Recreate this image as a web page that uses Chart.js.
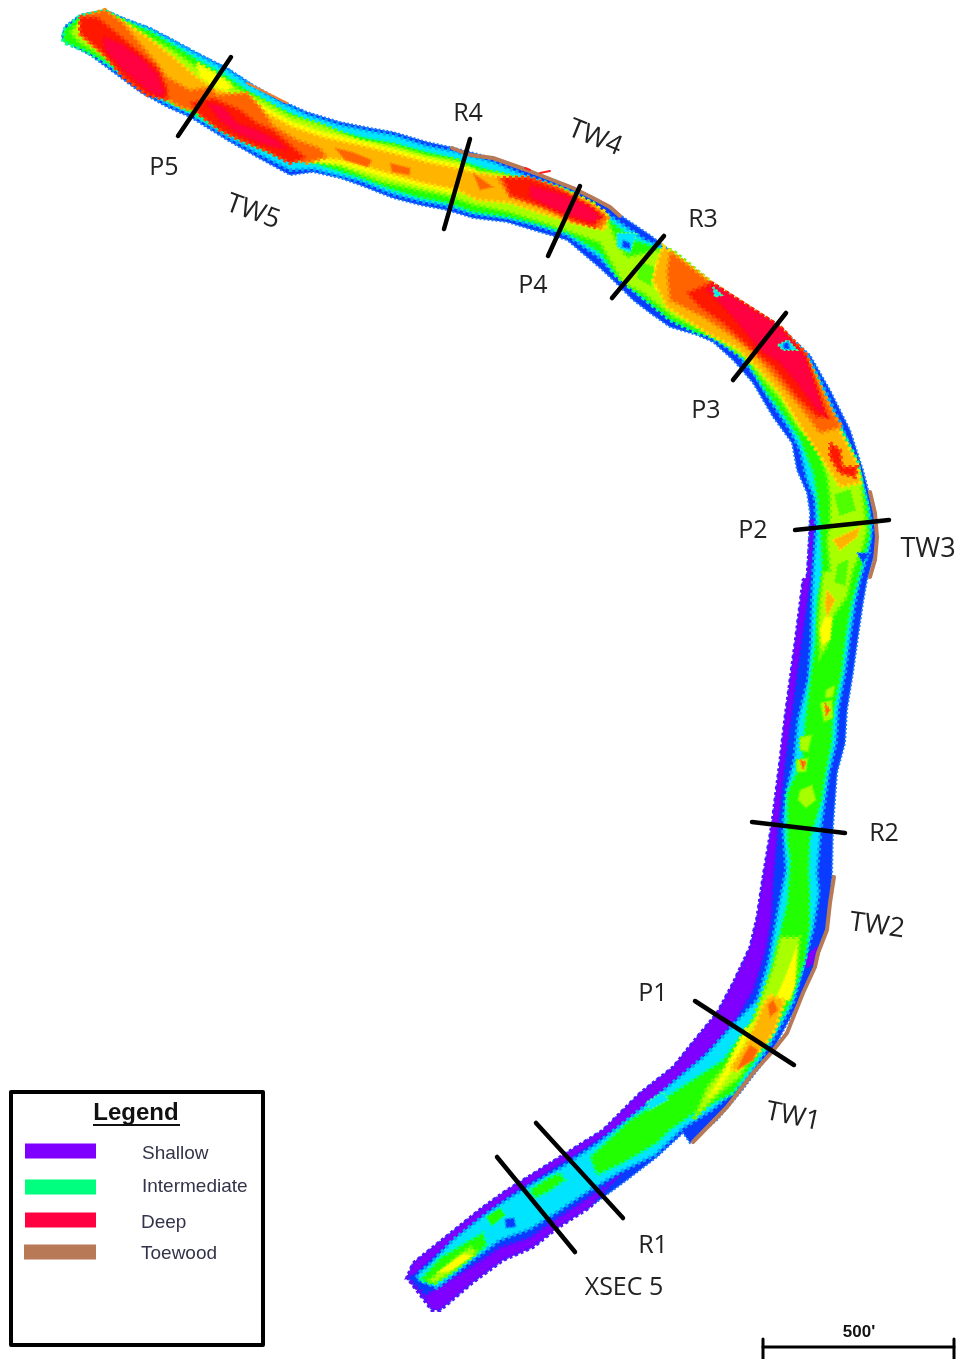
<!DOCTYPE html>
<html>
<head>
<meta charset="utf-8">
<title>Stream depth map</title>
<script src="https://cdn.jsdelivr.net/npm/chart.js@4"></script>
<style>
  html, body { margin: 0; padding: 0; background: #fff; }
  canvas { display: block; filter: blur(0.6px); }
</style>
</head>
<body>
<canvas id="map" width="959" height="1359"></canvas>
<script>
// all outlines, in picture pixels
const riverOutline = [[62,37],[65,26],[80,15],[105,10],[123,18],[150,28],[173,40],[197,53],[227,68],[253,85],[280,100],[307,112],[340,122],[370,128],[393,132],[427,142],[450,147],[493,158],[527,172],[567,185],[593,198],[620,215],[650,235],[663,245],[710,282],[780,327],[810,355],[830,390],[850,430],[863,470],[870,497],[877,527],[875,553],[867,580],[863,603],[858,637],[853,673],[847,710],[845,743],[837,773],[833,827],[832,877],[827,927],[817,960],[800,1000],[773,1050],[740,1093],[717,1120],[690,1143],[683,1133],[657,1157],[623,1183],[590,1207],[557,1228],[533,1247],[503,1260],[473,1282],[440,1310],[432,1310],[407,1277],[413,1263],[423,1255],[483,1207],[507,1190],[563,1155],[603,1130],[640,1093],[673,1067],[697,1037],[717,1013],[733,983],[750,947],[757,917],[763,877],[772,823],[780,760],[785,717],[795,643],[803,580],[807,577],[810,513],[807,493],[797,470],[792,443],[773,417],[753,383],[733,360],[713,342],[697,335],[670,327],[650,313],[633,300],[613,280],[600,268],[567,240],[533,230],[507,222],[473,218],[447,210],[420,205],[393,198],[360,185],[340,178],[313,172],[290,175],[257,157],[227,140],[190,117],[167,107],[140,92],[117,75],[90,55],[67,43]];
const purpleWest = [[811,520],[807,577],[803,580],[795,643],[785,717],[780,760],[772,823],[763,877],[757,917],[750,947],[733,983],[717,1013],[697,1037],[673,1067],[640,1093],[603,1130],[563,1155],[507,1190],[483,1207],[423,1255],[413,1263],[407,1277],[416,1273],[432,1258],[488,1211],[518,1190],[573,1156],[625,1122],[658,1095],[692,1066],[717,1042],[737,1017],[753,990],[766,947],[771,917],[773,877],[778,823],[785,760],[791,717],[801,643],[810,580],[814,520]];
const purpleSouth = [[407,1277],[425,1296],[470,1268],[500,1248],[530,1238],[557,1219],[590,1197],[612,1182],[590,1207],[557,1228],[533,1247],[503,1260],[473,1282],[440,1310],[432,1310]];
const purpleSpot = [[805,957],[817,947],[813,963],[807,968]];
const cyanBand = [[64,32],[80,16],[105,11],[123,19],[150,29],[173,41],[197,54],[228,70],[254,87],[282,103],[308,115],[340,125],[370,131],[393,135],[427,146],[452,151],[493,162],[527,176],[567,189],[590,202],[616,220],[645,240],[665,248],[710,284],[780,329],[808,357],[826,392],[844,432],[858,470],[866,497],[872,527],[868,553],[860,580],[855,603],[850,637],[845,673],[838,710],[836,743],[829,773],[825,800],[821,827],[817,873],[819,893],[813,930],[806,955],[798,985],[793,1003],[770,1045],[745,1082],[712,1110],[683,1128],[655,1155],[620,1172],[590,1190],[557,1212],[530,1229],[500,1240],[470,1262],[437,1288],[416,1278],[420,1272],[430,1264],[453,1240],[486,1214],[508,1199],[524,1189],[564,1166],[598,1143],[646,1105],[676,1080],[706,1055],[736,1022],[757,1000],[769,960],[779,905],[786,870],[783,827],[786,793],[794,760],[798,720],[808,680],[811,643],[812,600],[814,560],[816,530],[815,500],[807,480],[800,450],[790,430],[770,400],[755,375],[738,355],[715,340],[700,332],[677,318],[650,303],[630,288],[613,272],[600,258],[567,235],[533,225],[507,218],[473,214],[447,206],[420,201],[393,194],[360,181],[340,176],[313,169],[290,170],[257,153],[227,137],[190,114],[167,104],[140,90],[117,72],[90,52],[67,41]];
const greenBand = [[64,30],[80,16],[105,11],[123,20],[150,31],[172,44],[195,58],[225,75],[250,92],[278,108],[305,120],[340,132],[370,139],[393,143],[427,152],[452,158],[490,170],[527,183],[565,196],[590,208],[612,222],[635,240],[650,245],[665,252],[710,285],[780,330],[807,358],[817,377],[830,410],[843,433],[857,460],[863,487],[868,507],[870,537],[866,553],[860,573],[852,603],[846,637],[842,673],[834,710],[832,743],[826,773],[822,800],[810,840],[809,873],[810,893],[810,927],[805,960],[792,1000],[767,1045],[745,1075],[733,1093],[695,1113],[670,1130],[657,1143],[623,1163],[597,1175],[590,1157],[630,1120],[665,1098],[700,1075],[723,1060],[745,1030],[765,1003],[773,960],[787,903],[790,860],[787,840],[787,793],[802,760],[805,720],[810,680],[815,643],[817,600],[822,573],[820,527],[817,497],[813,473],[800,440],[787,420],[767,393],[757,377],[743,353],[717,337],[697,333],[670,320],[637,293],[617,277],[600,253],[567,233],[533,223],[507,217],[473,212],[447,203],[420,198],[393,190],[360,178],[313,163],[290,160],[257,147],[227,133],[190,112],[167,100],[140,87],[107,63],[83,50],[63,42]];
const greenSpots = [
  [[530,1190],[548,1178],[560,1173],[565,1180],[548,1192],[535,1198]],
  [[486,1217],[500,1208],[505,1215],[492,1226]],
  [[420,1280],[440,1258],[470,1240],[483,1233],[487,1246],[470,1258],[450,1274],[432,1284]]
];
const limeTop = [[70,33],[80,20],[110,15],[123,20],[150,37],[173,50],[197,67],[217,75],[240,90],[263,100],[290,115],[323,125],[360,140],[393,145],[427,155],[457,160],[477,170],[500,173],[533,182],[560,188],[593,203],[607,217],[617,243],[627,257],[660,250],[672,250],[717,287],[782,330],[808,362],[813,377],[833,423],[847,447],[860,473],[863,497],[867,530],[863,547],[853,570],[847,597],[833,617],[827,647],[820,657],[818,627],[820,600],[823,573],[830,570],[827,540],[830,520],[830,497],[827,477],[817,447],[797,427],[780,400],[760,377],[747,360],[723,343],[700,330],[673,317],[643,293],[623,283],[600,243],[573,233],[540,222],[507,212],[473,205],[450,197],[417,190],[380,182],[340,167],[313,160],[293,157],[257,140],[227,123],[200,113],[173,103],[140,83],[103,57],[80,43]];
const limeSpots = [
  [[780,937],[800,937],[797,973],[787,1000],[763,1037],[740,1077],[720,1093],[693,1120],[707,1087],[733,1057],[753,1020],[763,993],[773,967]],
  [[428,1281],[455,1258],[470,1247],[478,1252],[455,1270],[435,1283]],
  [[820,703],[832,700],[833,718],[824,722]],
  [[800,790],[812,785],[816,800],[806,808],[798,800]],
  [[796,760],[808,758],[806,772],[797,772]],
  [[800,737],[812,735],[808,752],[800,750]],
  [[826,690],[835,685],[833,697],[825,698]]
];
const greenOverLime = [
  [[835,495],[850,490],[855,510],[840,515]],
  [[838,565],[848,560],[845,585],[835,582]],
  [[640,262],[655,268],[650,285],[638,278]],
  [[785,385],[795,395],[790,402],[780,392]]
];
const yellowSpots = [
  [[197,63],[215,73],[232,85],[226,92],[212,86],[200,78]],
  [[240,93],[267,108],[293,122],[323,132],[370,143],[393,149],[427,158],[457,164],[477,171],[457,194],[423,187],[387,178],[360,170],[340,164],[307,161],[293,154],[257,139],[240,127]],
  [[797,390],[815,420],[832,450],[825,455],[805,430],[785,400]],
  [[655,265],[670,255],[680,265],[665,290],[655,290]],
  [[825,617],[832,617],[830,640],[822,645],[820,630]],
  [[786,975],[797,945],[795,985],[790,1000],[775,1000]],
  [[745,1030],[752,1025],[736,1065],[718,1090],[708,1098],[722,1075]],
  [[437,1273],[463,1254],[472,1256],[450,1271]]
];
const amberTop = [[77,27],[120,20],[147,37],[173,57],[197,77],[213,88],[240,97],[267,113],[293,127],[323,137],[360,145],[393,153],[427,162],[457,168],[477,173],[503,177],[547,187],[580,197],[607,213],[605,230],[573,223],[540,213],[510,203],[477,200],[457,190],[423,183],[387,173],[360,165],[340,160],[307,157],[293,150],[257,137],[227,120],[197,110],[173,100],[147,83],[107,53]];
const amberMid = [[657,263],[663,246],[710,282],[780,327],[803,353],[833,417],[857,463],[860,483],[840,487],[823,460],[803,430],[780,393],[757,367],[737,348],[707,333],[667,307],[653,280]];
const amberSpots = [
  [[833,540],[860,527],[857,537],[840,550]],
  [[827,590],[835,600],[827,617],[825,603]],
  [[770,995],[785,1000],[775,1030],[765,1045],[752,1058],[735,1072],[730,1068],[745,1045],[755,1025],[763,1005]]
];
const orangeSpots = [
  [[80,17],[105,10],[123,23],[137,40],[157,63],[167,77],[190,90],[210,87],[217,95],[247,93],[260,107],[273,125],[297,140],[320,148],[327,157],[307,163],[287,157],[253,143],[233,130],[203,113],[180,107],[167,99],[140,84],[107,58],[80,35]],
  [[497,178],[527,177],[560,188],[593,205],[608,218],[600,228],[573,222],[540,207],[510,197]],
  [[473,173],[493,187],[480,190]],
  [[390,163],[410,168],[410,175],[392,172]],
  [[335,148],[352,152],[372,160],[368,167],[345,160]],
  [[667,273],[670,251],[710,282],[780,327],[805,353],[833,413],[842,427],[820,433],[800,407],[777,380],[753,353],[730,335],[703,317],[670,300]],
  [[773,1000],[778,1010],[770,1017],[768,1005]],
  [[750,1045],[758,1050],[753,1060],[737,1070],[743,1057]],
  [[800,760],[806,762],[803,770]],
  [[825,703],[830,710],[826,716]]
];
const redSpots = [
  [[80,17],[97,17],[113,30],[137,50],[157,67],[167,87],[168,100],[147,95],[123,77],[103,53],[80,33]],
  [[190,103],[213,98],[240,110],[257,123],[273,130],[293,147],[306,158],[290,163],[267,151],[240,140],[220,130],[200,115]],
  [[503,178],[530,178],[560,190],[587,205],[602,215],[594,227],[573,220],[547,208],[510,195]],
  [[687,293],[710,283],[780,327],[805,353],[828,417],[817,417],[797,397],[773,367],[750,348],[723,323],[700,307]],
  [[830,443],[840,450],[842,467],[857,467],[855,477],[840,473],[830,457]]
];
const crimsonSpots = [
  [[103,37],[120,43],[140,57],[157,73],[165,93],[160,97],[147,90],[123,70],[105,50]],
  [[207,103],[223,107],[237,123],[257,130],[277,140],[287,150],[260,143],[237,133],[220,120]],
  [[530,185],[565,195],[590,207],[600,217],[592,223],[572,216],[550,207],[530,197]],
  [[707,290],[713,284],[780,327],[805,357],[825,415],[817,410],[797,383],[780,363],[760,350],[733,317]]
];
const cyanSpots = [
  [[617,233],[637,233],[630,253],[617,247]],
  [[647,1102],[663,1092],[668,1100],[650,1110]],
  [[713,287],[722,295],[715,297]],
  [[778,345],[788,340],[797,350],[783,350]]
];
const blueSpots = [
  [[623,240],[630,243],[630,249],[622,247]],
  [[857,553],[870,553],[863,563]],
  [[505,1219],[514,1218],[516,1227],[506,1228]],
  [[783,344],[788,342],[790,349],[784,349]]
];

// surveyed lines
const crossSections = [
  [[231,57],[178,136]],[[470,139],[444,229]],[[580,186],[548,256]],[[664,236],[612,298]],
  [[786,313],[733,380]],[[795,530],[889,520]],[[752,822],[845,833]],[[695,1001],[794,1065]],
  [[536,1123],[623,1218]],[[497,1157],[575,1252]]
];
const toewoodRuns = [
  [[452,148],[470,155],[493,158],[527,170],[573,188],[593,198],[610,207],[620,216]],
  [[870,492],[875,513],[877,537],[875,560],[870,577]],
  [[834,877],[830,903],[827,930],[818,953],[815,967],[803,993],[787,1033],[772,1052],[753,1073],[727,1107],[693,1142]]
];
const orangeSeam = [[247,83],[267,93],[287,103]];
const redTicks = [[[525,168],[530,170]],[[540,173],[550,171]]];

// text on the map
const labelTexts = ['P5','R4','TW4','TW5','P4','R3','P3','P2','TW3','R2','TW2','P1','TW1','R1','XSEC 5'];
const labelX = [164,468,595,253,533,703,706,753,928,884,877,653,793,653,624];
const labelY = [168,114,138,212,286,220,411,531,549,834,926,994,1117,1246,1288];
const labelAngle = [0,0,22,20,0,0,0,0,0,0,8,0,12,0,0];
const labelSize = [25,25,27,27,25,25,25,25,27,25,27,25,27,25,25];

// legend
const legendNames = ['Shallow','Intermediate','Deep','Toewood'];
const legendColors = ['#7f00ff','#00ff7f','#ff0040','#b87a56'];
const legendTextX = [142,142,141,141];
const legendTextY = [1154,1187,1223,1254];
const legendSwatchX = [[25,96],[25,96],[25,96],[24,96]];
const legendSwatchY = [1151,1187,1220,1252];
const legendFrame = [[11,1092],[263,1092],[263,1345],[11,1345],[11,1092]];
const scaleBar = [[763,1347],[954,1347]];
const scaleTicks = [[[763,1339],[763,1359]],[[954,1339],[954,1359]]];

const pts = a => a.map(p => ({x: p[0], y: p[1]}));

function area(name, outline, color, edge) {
    // small spots get a finer rough edge
    const small = outline.length < 6;
    return {
        label: name, data: pts(outline.concat([outline[0]])), showLine: true, pointRadius: 0,
        fill: 'shape', backgroundColor: color, borderColor: edge || color,
        borderWidth: small ? 2 : 4, borderDash: small ? [2, 2] : [3, 3], tension: 0
    };
}
function stroke(name, line, color, width) {
    return {
        label: name, data: pts(line), showLine: true, pointRadius: 0, fill: false,
        borderColor: color, borderWidth: width, borderCapStyle: 'round', borderJoinStyle: 'round', tension: 0
    };
}

let river = area('river', riverOutline, '#0a3cff', '#1a7cff');
river.borderWidth = 2;
river.borderDash = [2, 2];
let west = area('purple', purpleWest, '#7f00ff', '#5a10ff');
west.borderWidth = 3;
let layers = [
    river,
    west,
    area('purple', purpleSouth, '#7f00ff', '#5a10ff'),
    area('purple', purpleSpot, '#7f00ff'),
    area('cyan', cyanBand, '#00e4ff', '#00a8ff'),
    area('green', greenBand, '#22ff00', '#00ff90')
];
greenSpots.forEach(s => layers.push(area('green', s, '#22ff00', '#00ff90')));
layers.push(area('lime', limeTop, '#a8ff00', '#60ff00'));
limeSpots.forEach(s => layers.push(area('lime', s, '#a8ff00', '#60ff00')));
greenOverLime.forEach(s => layers.push(area('green', s, '#50ff00')));
yellowSpots.forEach(s => layers.push(area('yellow', s, '#ffff00', '#d8ff00')));
layers.push(area('amber', amberTop, '#ffb400', '#ffdc00'));
layers.push(area('amber', amberMid, '#ffb400', '#ffdc00'));
amberSpots.forEach(s => layers.push(area('amber', s, '#ffb400', '#ffdc00')));
orangeSpots.forEach(s => layers.push(area('orange', s, '#ff6400', '#ff9000')));
redSpots.forEach(s => layers.push(area('red', s, '#ff1800', '#ff4000')));
crimsonSpots.forEach(s => layers.push(area('crimson', s, '#ff0040', '#ff0820')));
cyanSpots.forEach(s => layers.push(area('cyan', s, '#00e4ff', '#40ff90')));
blueSpots.forEach(s => layers.push(area('blue', s, '#0a3cff', '#00a8ff')));

toewoodRuns.forEach(r => layers.push(stroke('Toewood', r, '#b87a56', 4)));
layers.push(stroke('seam', orangeSeam, '#f08030', 2));
redTicks.forEach(r => layers.push(stroke('seam', r, '#ff2020', 2)));
crossSections.forEach(c => layers.push(stroke('xsec', c, '#000', 4.5)));

layers.push(stroke('frame', legendFrame, '#000', 4));
legendNames.forEach((n, i) => layers.push(stroke(n, [[legendSwatchX[i][0], legendSwatchY[i]], [legendSwatchX[i][1], legendSwatchY[i]]], legendColors[i], 15)));
layers.forEach(d => { if (d.borderWidth === 15) d.borderCapStyle = 'butt'; });
layers.push(stroke('scale', scaleBar, '#000', 3));
scaleTicks.forEach(t => layers.push(stroke('scale', t, '#000', 3)));

// later entries sit on top
layers.forEach((d, i) => { d.order = layers.length - i; });

const mapText = {
    id: 'mapText',
    afterDatasetsDraw(chart) {
        const c = chart.ctx, sx = chart.scales.x, sy = chart.scales.y;
        c.save();
        c.textBaseline = 'middle';
        c.fillStyle = '#222';
        c.textAlign = 'center';
        labelTexts.forEach((t, i) => {
            c.save();
            c.font = labelSize[i] + 'px "Open Sans"';
            c.translate(sx.getPixelForValue(labelX[i]), sy.getPixelForValue(labelY[i]));
            c.rotate(labelAngle[i] * Math.PI / 180);
            c.fillText(t, 0, 0);
            c.restore();
        });
        c.textAlign = 'left';
        c.fillStyle = '#33334a';
        c.font = '19px "Liberation Sans"';
        legendNames.forEach((t, i) => c.fillText(t, sx.getPixelForValue(legendTextX[i]), sy.getPixelForValue(legendTextY[i])));
        c.fillStyle = '#111';
        c.textAlign = 'center';
        c.font = 'bold 24px "Liberation Sans"';
        c.fillText('Legend', sx.getPixelForValue(136), sy.getPixelForValue(1113));
        c.fillRect(sx.getPixelForValue(93), sy.getPixelForValue(1124), 87, 2);
        c.font = 'bold 17px "Liberation Sans Narrow", "Liberation Sans"';
        c.fillText("500'", sx.getPixelForValue(859), sy.getPixelForValue(1332));
        c.restore();
    }
};

new Chart(document.getElementById('map'), {
    type: 'scatter',
    data: {datasets: layers},
    plugins: [mapText],
    options: {
        responsive: false,
        animation: false,
        layout: {padding: 0},
        plugins: {legend: {display: false}, tooltip: {enabled: false}},
        scales: {
            x: {type: 'linear', display: false, min: 0, max: 959},
            y: {type: 'linear', display: false, min: 0, max: 1359, reverse: true}
        }
    }
});
</script>
</body>
</html>
